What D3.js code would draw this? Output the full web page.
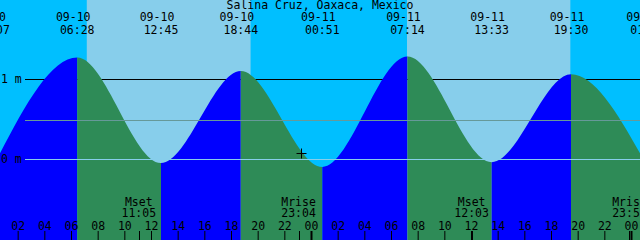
<!DOCTYPE html>
<html><head><meta charset="utf-8">
<script src="https://cdn.jsdelivr.net/npm/d3@7"></script>
<style>html,body{margin:0;padding:0;background:#00bfff;overflow:hidden}
text{font-family:"DejaVu Sans Mono",monospace;font-size:11.5px;fill:#000}</style>
</head><body><svg id="c" width="640" height="240"></svg>
<script>
// ---- data ----
const title = "Salina Cruz, Oaxaca, Mexico";
const tideTimes = ["09-10 00:07","09-10 06:28","09-10 12:45","09-10 18:44","09-11 00:51","09-11 07:14","09-11 13:33","09-11 19:30","09-12 01:15"];
const tideHeights = [-0.11, 1.27, -0.05, 1.10, -0.10, 1.28, -0.04, 1.06, -0.10];
const sunrises = ["09-10 07:11","09-11 07:12"];
const sunsets  = ["09-10 19:28","09-11 19:27"];
const moonTimes = ["09-10 11:05","09-10 23:04","09-11 12:03","09-11 23:53"];
const moonLabels = ["Mset","Mrise","Mset","Mrise"];
const levelValues = [0, 1];
const levelLabels = ["0 m","1 m"];
const midLevel = 0.49;
const hourTicks = [2,4,6,8,10,12,14,16,18,20,22,24,26,28,30,32,34,36,38,40,42,44,46,48];
const nowTime = "09-11 23:15".replace("09-11","09-10");
const nowHeight = 0.075;

// ---- helpers ----
function hrs(s){ const [d,t]=s.split(" "); const day=+d.split("-")[1]; const [hh,mm]=t.split(":").map(Number); return (day-10)*24+hh+mm/60; }

const W=640,H=240;
const svg=d3.select("#c");
const x=d3.scaleLinear().domain([0.675,48.675]).range([0,W]);
const y=d3.scaleLinear().domain([0,1]).range([159,79]);

const C={night:"#00bfff",day:"#87ceeb",flood:"#0000ff",ebb:"#2e8b57",mid:"#669999",datum:"#87ceeb"};

svg.append("rect").attr("width",W).attr("height",H).attr("fill",C.night);
sunrises.forEach((r,i)=>{
  svg.append("rect").attr("x",x(hrs(r))).attr("y",0)
    .attr("width",x(hrs(sunsets[i]))-x(hrs(r))).attr("height",H).attr("fill",C.day);
});

// 1 m line behind the water
svg.append("line").attr("x1",25).attr("x2",W).attr("y1",y(1)).attr("y2",y(1))
  .attr("stroke","#000").attr("stroke-width",1).attr("shape-rendering","crispEdges");

const pts=tideTimes.map((t,i)=>({h:hrs(t),v:tideHeights[i]}));
const area=d3.area().x(d=>x(d.h)).y0(H).y1(d=>y(d.v)).curve(d3.curveMonotoneX);
const defs=svg.append("defs");
for(let i=0;i<pts.length-1;i++){
  const a=pts[i],b=pts[i+1];
  const id="seg"+i;
  defs.append("clipPath").attr("id",id).append("rect")
    .attr("x",x(a.h)).attr("y",0).attr("width",x(b.h)-x(a.h)).attr("height",H);
  svg.append("path").datum(pts).attr("d",area).attr("clip-path",`url(#${id})`)
    .attr("fill", b.v>a.v?C.flood:C.ebb);
}

// mid and datum lines over water
svg.append("line").attr("x1",25).attr("x2",W).attr("y1",Math.round(y(midLevel))+0.5).attr("y2",Math.round(y(midLevel))+0.5)
  .attr("stroke",C.mid).attr("stroke-width",1);
svg.append("line").attr("x1",25).attr("x2",W).attr("y1",y(0)+0.5).attr("y2",y(0)+0.5)
  .attr("stroke",C.datum).attr("stroke-width",1);

// level labels
levelValues.forEach((v,i)=>{
  svg.append("text").attr("x",1).attr("y",y(v)+4).text(levelLabels[i]);
});

// title
svg.append("text").attr("x",W/2).attr("y",9).attr("text-anchor","middle").text(title);

// tide event labels
tideTimes.forEach(t=>{
  const [d,tm]=t.split(" ");
  const xx=x(hrs(t));
  svg.append("text").attr("x",xx-4).attr("y",21).attr("text-anchor","middle").text(d);
  svg.append("text").attr("x",xx).attr("y",34).attr("text-anchor","middle").text(tm);
});

// moon labels
moonTimes.forEach((t,i)=>{
  const xx=x(hrs(t));
  svg.append("text").attr("x",xx).attr("y",206).attr("text-anchor","middle").text(moonLabels[i]);
  svg.append("text").attr("x",xx).attr("y",217).attr("text-anchor","middle").text(t.split(" ")[1]);
  svg.append("line").attr("x1",Math.round(xx)+0.5).attr("x2",Math.round(xx)+0.5).attr("y1",231).attr("y2",H)
    .attr("stroke","#000");
});

// hour axis
const ax=d3.axisTop(x).tickValues(hourTicks).tickSize(9).tickPadding(1)
  .tickFormat(h=>d3.format("02d")(h%24));
const g=svg.append("g").attr("transform",`translate(0,${H})`).call(ax);
g.select(".domain").remove();
g.selectAll("text").style("font-family","DejaVu Sans Mono").style("font-size","11.5px").attr("fill","#000");
g.selectAll("line").attr("stroke","#000").attr("stroke-width",h=>h%24===0?2:1);

// now marker
const nx=Math.round(x(hrs(nowTime)))+0.5, ny=Math.round(y(nowHeight))+0.5;
svg.append("path").attr("d",`M${nx-5},${ny}H${nx+5}M${nx},${ny-5}V${ny+5}`).attr("stroke","#000").attr("stroke-width",1);
</script></body></html>
